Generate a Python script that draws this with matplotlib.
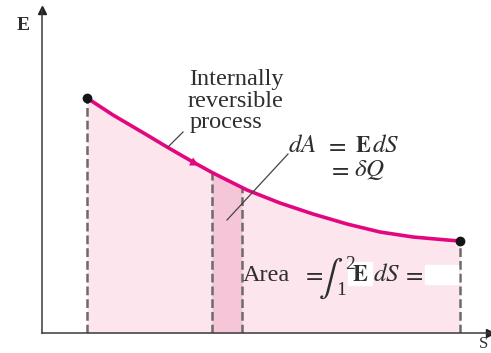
import numpy as np
import matplotlib
matplotlib.use("Agg")
import matplotlib.pyplot as plt
from matplotlib.patches import Rectangle

plt.rcParams['mathtext.fontset'] = 'stix'
SERIF = ['Liberation Serif', 'DejaVu Serif']

# Process curve (entropy S vs. E), arbitrary units
S = [45, 71, 105, 125, 151, 171, 205, 238, 271, 305, 338, 371, 405, 418]
E = [235, 218, 198, 186, 171, 160, 143, 130, 119, 109, 101, 96, 93, 92]
strip_S = [170, 200]          # the differential strip dS

CURVE = '#e2077f'
FILL = '#fde5ee'
STRIP = '#f5c6d8'
DASH = '#6b6b6b'

fig = plt.figure(figsize=(4.91, 3.53), dpi=100)
ax = fig.add_axes([42/491, 20/353, 448/491, 323/353])
ax.set_xlim(0, 448)
ax.set_ylim(0, 323)
for side in ['top', 'right']:
    ax.spines[side].set_visible(False)
for side in ['left', 'bottom']:
    ax.spines[side].set_color('#3a3a3a')
    ax.spines[side].set_linewidth(1.1)
ax.set_xticks([])
ax.set_yticks([])
ax.patch.set_alpha(0)

# axis arrows
ax.plot(1, 0, '>', color='#222222', ms=6, transform=ax.transAxes, clip_on=False)
ax.plot(0, 1, '^', color='#222222', ms=6, transform=ax.transAxes, clip_on=False)

S_arr = np.array(S, float)
E_arr = np.array(E, float)

# area under the curve
ax.fill_between(S_arr, E_arr, 0, color=FILL, lw=0, zorder=1)
xs = np.linspace(strip_S[0], strip_S[1], 20)
ax.fill_between(xs, np.interp(xs, S_arr, E_arr), 0, color=STRIP, lw=0, zorder=1.5)

# dashed verticals
for x in [S[0], strip_S[0], strip_S[1], S[-1]]:
    ax.plot([x, x], [0, np.interp(x, S_arr, E_arr)], color=DASH, lw=1.8,
            linestyle=(0, (3.5, 1.6)), zorder=2)

# curve
ax.plot(S_arr, E_arr, color=CURVE, lw=2.6, solid_capstyle='round',
        solid_joinstyle='round', zorder=3)
ax.plot([S[0], S[-1]], [E[0], E[-1]], 'o', color='#151515', ms=6, zorder=4)

# direction arrow on curve
ax.annotate('', xy=(157, 167.5), xytext=(145, 173.5),
            arrowprops=dict(arrowstyle='-|>', color=CURVE, lw=0,
                            mutation_scale=16, shrinkA=0, shrinkB=0), zorder=4)

# leader lines
ax.plot([126, 141], [186, 201], color='#444444', lw=0.9, zorder=3)
ax.plot([185, 246], [113, 179], color='#444444', lw=0.9, zorder=3)

tc = '#2e2e2e'
LBL = dict(fontfamily=SERIF, fontsize=17.5, color=tc, ha='left', va='baseline')
# process label
ax.text(147, 248, 'Internally', **LBL)
ax.text(146, 226, 'reversible', **LBL)
ax.text(148, 205, 'process', **LBL)

# dA = E dS = dQ
MT = dict(fontsize=18, color=tc, ha='left', va='baseline')
ax.text(246, 181, r'$dA$', **MT)
ax.text(283, 181, r'$=$', **MT)
ax.text(313, 181, r'$\mathbf{E}$', fontsize=16, color=tc, ha='left', va='baseline')
ax.text(330, 181, r'$dS$', **MT)
ax.text(286, 157, r'$=$', **MT)
ax.text(312, 157, r'$\delta Q$', **MT)

# Area = integral
ax.add_patch(Rectangle((306, 48), 24, 23, color='white', zorder=4))
ax.add_patch(Rectangle((383, 49), 33, 19, color='white', zorder=4))
ax.text(201, 52, 'Area', zorder=5, **LBL)
ax.text(260, 52, r'$=$', zorder=5, **MT)
ax.text(276, 45, r'$\int$', fontsize=26, color=tc, ha='left', va='baseline', zorder=5)
ax.text(303, 64, '2', fontfamily=SERIF, fontsize=14, color=tc,
        ha='left', va='baseline', zorder=5)
ax.text(294, 38, '1', fontfamily=SERIF, fontsize=14, color=tc,
        ha='left', va='baseline', zorder=5)
ax.text(310, 52, r'$\mathbf{E}$', fontsize=16, color=tc, ha='left', va='baseline', zorder=5)
ax.text(331, 52, r'$dS$', **{**MT, 'zorder': 5})
ax.text(360, 52, r'$=$', **{**MT, 'zorder': 5})

# axis labels
ax.text(-19, 308, 'E', fontfamily=SERIF, fontsize=14, fontweight='bold', color=tc,
        ha='center', va='center')
ax.text(442, -11, 'S', fontfamily=SERIF, fontsize=12, color=tc, ha='center', va='center')

fig.savefig('out.png', dpi=100)
